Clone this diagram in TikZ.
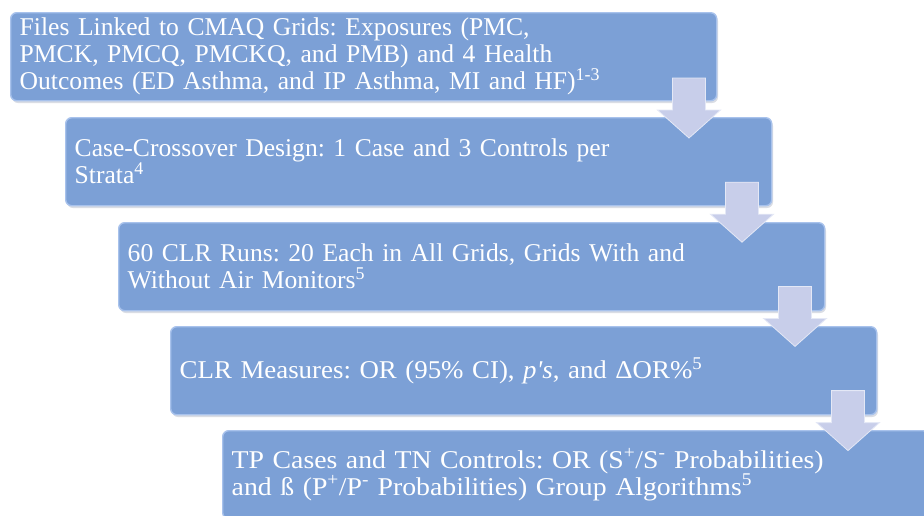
\documentclass[tikz,border=0pt]{standalone}
\usepackage{fontspec}
\setmainfont{Liberation Serif}
\newfontfamily\fd[FakeStretch=1.05]{Liberation Serif}
\newfontfamily\fe[FakeStretch=1.085]{Liberation Serif}
\frenchspacing
\definecolor{boxfill}{RGB}{124,160,214}
\definecolor{boxedge}{RGB}{168,194,236}
\definecolor{arrfill}{RGB}{200,206,234}
\definecolor{arredge}{RGB}{228,232,246}
\definecolor{shadowc}{RGB}{150,160,180}
\begin{document}
\begin{tikzpicture}[x=1pt,y=-1pt,
  stepbox/.style={draw=boxedge, line width=1.4pt, fill=boxfill, rounded corners=6pt,
    anchor=north west, minimum width=706pt, minimum height=88pt,
    text=white, align=left, inner xsep=9pt, text width=688pt,
    font=\fontsize{25.6}{27}\selectfont},
  downarr/.style={fill=arrfill, draw=arredge, line width=0.8pt, line join=miter}]
\useasboundingbox (0,0) rectangle (924,515);
\fill[white] (0,0) rectangle (924,515);
% shadows
\foreach \i/\x/\y in {0/10/12,1/65/117,2/118/222,3/170/326,4/222/430}
  \fill[shadowc, opacity=0.35, rounded corners=6pt] (\x+2,\y+3) rectangle ++(706,88);
\node[stepbox] (b1) at (10,12) {Files Linked to CMAQ Grids: Exposures (PMC,\\PMCK, PMCQ, PMCKQ, and PMB) and 4 Health\\Outcomes (ED Asthma, and IP Asthma, MI and HF)\textsuperscript{1-3}};
\node[stepbox] (b2) at (65,117) {Case-Crossover Design: 1 Case and 3 Controls per\\Strata\textsuperscript{4}};
\node[stepbox] (b3) at (118,222) {60 CLR Runs: 20 Each in All Grids, Grids With and\\Without Air Monitors\textsuperscript{5}};
\node[stepbox] (b4) at (170,326) {\fd CLR Measures: OR (95\% CI), \textit{p's}, and ΔOR\%\textsuperscript{5}};
\node[stepbox] (b5) at (222,430) {\fe TP Cases and TN Controls: OR (S\textsuperscript{+}/S\textsuperscript{-} Probabilities)\\and ß (P\textsuperscript{+}/P\textsuperscript{-} Probabilities) Group Algorithms\textsuperscript{5}};
% arrows
\foreach \k in {0,1,2,3}{
  \pgfmathsetmacro{\cx}{689+53*\k}
  \pgfmathsetmacro{\ty}{78+104.2*\k}
  \draw[downarr] (\cx-16.5,\ty) -- (\cx+16.5,\ty) -- (\cx+16.5,\ty+32) -- (\cx+31.5,\ty+32)
    -- (\cx,\ty+60) -- (\cx-31.5,\ty+32) -- (\cx-16.5,\ty+32) -- cycle;
}
\end{tikzpicture}
\end{document}
